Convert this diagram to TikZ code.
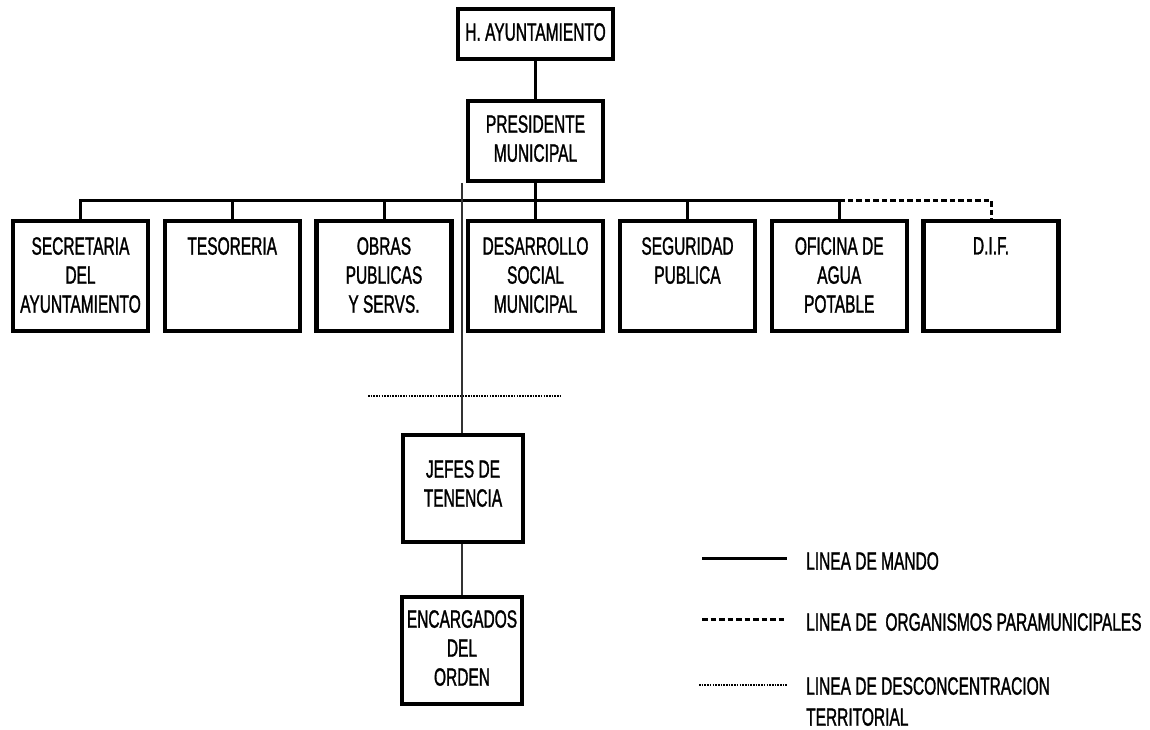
\documentclass[tikz,border=0pt]{standalone}
\usepackage{fontspec}
\newfontfamily\condfont[FakeStretch=0.62,FakeBold=1.2]{Liberation Sans}
\begin{document}
\begin{tikzpicture}[x=1pt,y=-1pt,
  unitbox/.style={draw=black, line width=4.2pt, inner sep=0pt, minimum width=135pt, minimum height=110pt},
  txt/.style={font=\condfont\fontsize{25}{29}\selectfont, inner sep=0pt, align=center, anchor=north},
  ltxt/.style={font=\condfont\fontsize{25}{31}\selectfont, inner sep=0pt, align=left, anchor=north west},
  cmd/.style={draw=black, line width=3pt},
  para/.style={draw=black, line width=3pt, dash pattern=on 5.5pt off 3pt},
  thinline/.style={draw=black!80, line width=1.5pt},
  dotline/.style={draw=black, line width=2.4pt, dash pattern=on 1.6pt off 1.1pt}
]
\useasboundingbox (0,0) rectangle (1150,730);

% top boxes
\node[draw=black, line width=4.2pt, inner sep=0pt, minimum width=155pt, minimum height=50pt] (H) at (535.5,34) {};
\node[txt, anchor=center] (Ht) at (535.5,32) {H. AYUNTAMIENTO};
\node[draw=black, line width=4.2pt, inner sep=0pt, minimum width=135pt, minimum height=80pt] (P) at (535.5,141) {};
\node[txt] (Pt) at (535.5,115) {PRESIDENTE\\MUNICIPAL};

% row of units
\node[unitbox] (D0) at (80.5,276) {};
\node[unitbox] (D1) at (232.25,276) {};
\node[unitbox] (D2) at (384,276) {};
\node[unitbox] (D3) at (535.5,276) {};
\node[unitbox] (D4) at (687.5,276) {};
\node[unitbox] (D5) at (839.25,276) {};
\node[unitbox] (D6) at (991,276) {};

\node[txt] (D0t) at (80.5,237) {SECRETARIA\\DEL\\AYUNTAMIENTO};
\node[txt] (D1t) at (232.25,237) {TESORERIA};
\node[txt] (D2t) at (384,237) {OBRAS\\PUBLICAS\\Y SERVS.};
\node[txt] (D3t) at (535.5,237) {DESARROLLO\\SOCIAL\\MUNICIPAL};
\node[txt] (D4t) at (687.5,237) {SEGURIDAD\\PUBLICA};
\node[txt] (D5t) at (839.25,237) {OFICINA DE\\AGUA\\POTABLE};
\node[txt] (D6t) at (991,237) {D.I.F.};

% lower boxes
\node[draw=black, line width=4.2pt, inner sep=0pt, minimum width=120pt, minimum height=107pt] (J) at (463,488.5) {};
\node[txt] (Jt) at (463,460) {JEFES DE\\TENENCIA};
\node[draw=black, line width=4.2pt, inner sep=0pt, minimum width=120pt, minimum height=107pt] (E) at (462,650.5) {};
\node[txt] (Et) at (462,610) {ENCARGADOS\\DEL\\ORDEN};

% connectors
\coordinate (bus) at (0,200);
\draw[cmd] (H.south) -- (P.north);
\draw[cmd] (P.south) -- (D3.north);
\draw[cmd] (D0.north) -- (D0.north |- bus) -- (D5.north |- bus) -- (D5.north);
\draw[cmd] (D1.north) -- (D1.north |- bus);
\draw[cmd] (D2.north) -- (D2.north |- bus);
\draw[cmd] (D4.north) -- (D4.north |- bus);
\draw[para] (D5.north |- bus) -- (D6.north |- bus) -- (D6.north);

\coordinate (tl) at (462,183);
\draw[thinline] (tl) -- (tl |- J.north);
\draw[thinline] (J.south -| tl) -- (E.north -| tl);

\coordinate (dotL) at (368,396);
\coordinate (dotR) at (560,396);
\draw[dotline] (dotL) -- (dotR);

% legend
\coordinate (l1a) at (702,558); \coordinate (l1b) at (787,558);
\coordinate (l2a) at (702,619); \coordinate (l2b) at (784,619);
\coordinate (l3a) at (699,685); \coordinate (l3b) at (788,685);
\draw[cmd] (l1a) -- (l1b);
\draw[para] (l2a) -- (l2b);
\draw[dotline] (l3a) -- (l3b);
\node[ltxt] (L1) at (806,552) {LINEA DE MANDO};
\node[ltxt] (L2) at (806,613) {LINEA DE\ \ ORGANISMOS PARAMUNICIPALES};
\node[ltxt] (L3) at (806,677) {LINEA DE DESCONCENTRACION\\TERRITORIAL};
\end{tikzpicture}
\end{document}
